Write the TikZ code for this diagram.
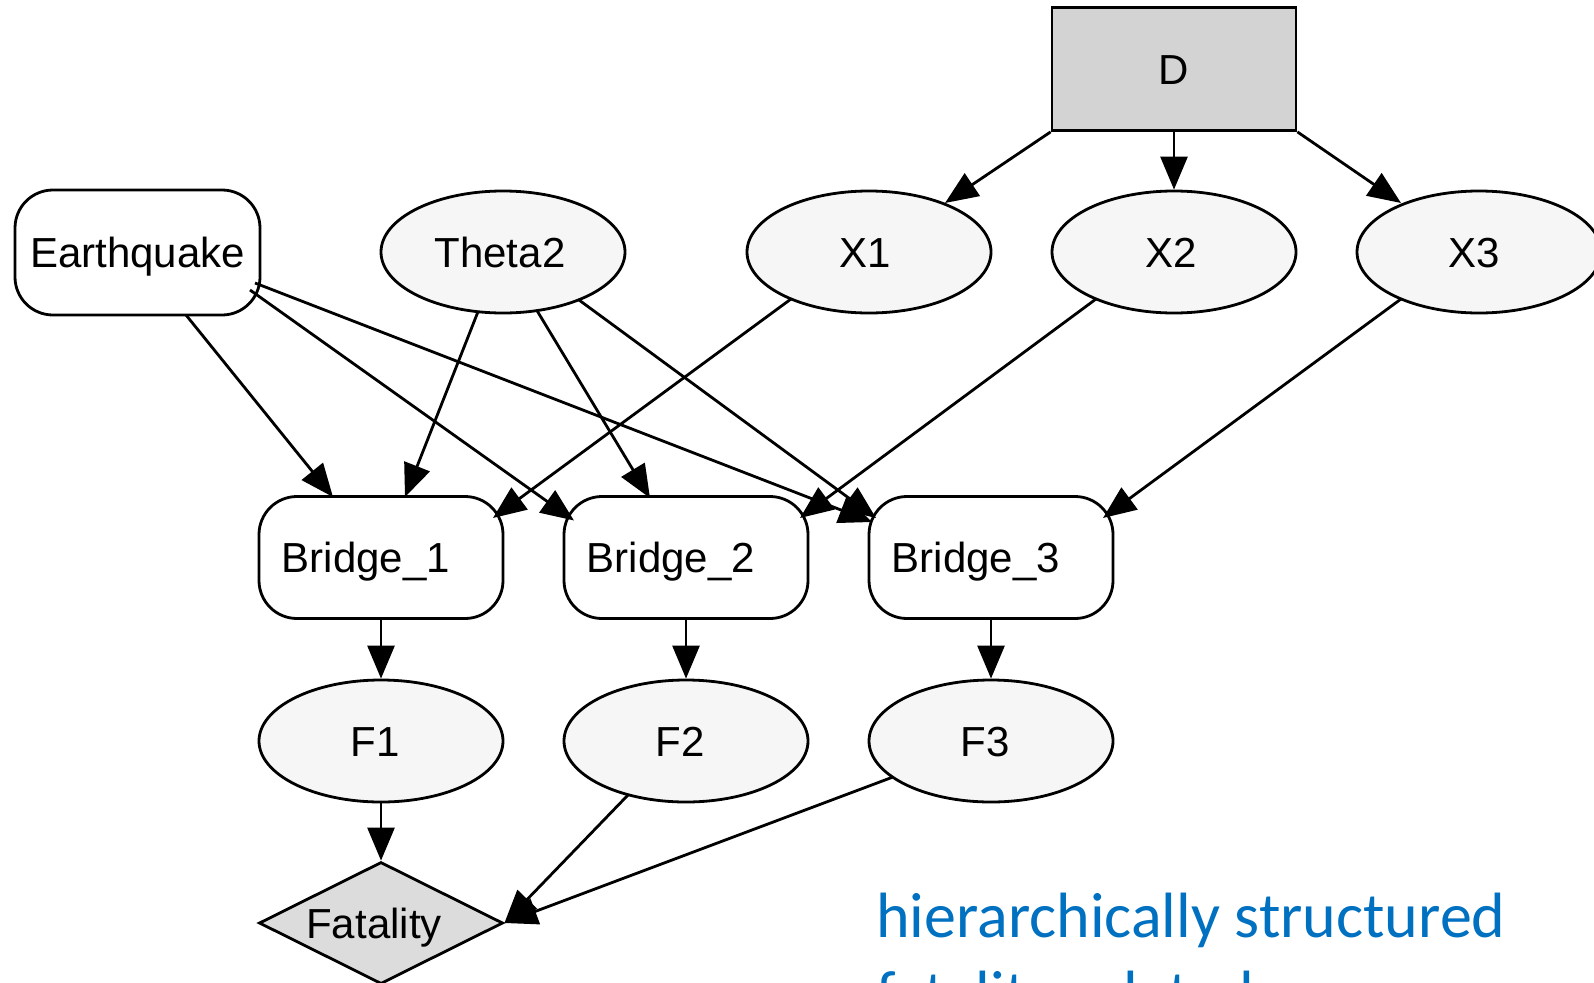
\documentclass[tikz,border=0pt]{standalone}
\usepackage{fontspec}
\setmainfont{Liberation Sans}
\newfontfamily\notefont{Carlito}
\usetikzlibrary{arrows.meta,shapes.geometric}
\definecolor{chancefill}{HTML}{F6F6F6}
\definecolor{decfill}{HTML}{D3D3D3}
\definecolor{utilfill}{HTML}{DCDCDC}
\definecolor{notecolor}{HTML}{0070C0}
\begin{document}
\begin{tikzpicture}[x=1pt,y=-1pt,
  lbl/.style={font=\fontsize{42}{50}\selectfont, text height=30.5pt, text depth=0pt,
    inner sep=0pt, line width=2.8pt},
  chance/.style={lbl, draw, ellipse, fill=chancefill, minimum width=244pt, minimum height=122pt},
  bnode/.style={lbl, draw, rectangle, rounded corners=38pt, fill=white,
    minimum width=244pt, minimum height=122pt},
  decision/.style={lbl, draw, rectangle, fill=decfill, minimum width=244pt, minimum height=123pt},
  utility/.style={lbl, draw, diamond, aspect=2, fill=utilfill, minimum width=244pt, minimum height=122pt},
  edge/.style={line width=2.8pt, -{Triangle[length=33pt,width=27pt]}},
  note/.style={font=\notefont\fontsize{64}{78}\selectfont, text=notecolor,
    inner sep=0pt, anchor=base west}
]
\clip (0,0) rectangle (1594,982);

% decision node and its three observations
\node[decision] (D) at (1174,69) {D};
\node[chance] (X1) at (869,252) {X1\kern8pt};
\node[chance] (X2) at (1174,252) {X2\kern6pt};
\node[chance] (X3) at (1479,252) {X3\kern10pt};

% hazard and model parameter
\node[bnode, minimum width=245pt, minimum height=125pt] (EQ) at (137.5,252.5) {Earthquake};
\node[chance] (T2) at (503,252) {Theta2\kern6pt};

% bridges
\node[bnode] (B1) at (381,557.5) {Bridge\_1\kern30pt};
\node[bnode] (B2) at (686,557.5) {Bridge\_2\kern30pt};
\node[bnode] (B3) at (991,557.5) {Bridge\_3\kern30pt};

% fatality per bridge
\node[chance] (F1) at (381,741) {F1\kern12pt};
\node[chance] (F2) at (686,741) {F2\kern12pt};
\node[chance] (F3) at (991,741) {F3\kern12pt};

% total fatality
\node[utility] (FA) at (381,923) {Fatality\kern14pt};

% arcs from D
\draw[edge] (D.south west) -- ([shift={(76,-49)}]X1.center);
\draw[edge] (D.south) -- (X2.north);
\draw[edge] (D.south east) -- ([shift={(-78,-49)}]X3.center);

% arcs into the bridges
\draw[edge] ([shift={(48.5,62.5)}]EQ.center) -- ([shift={(-48,-60.5)}]B1.center);
\draw[edge] ([shift={(112.5,37.5)}]EQ.center) -- ([shift={(-112,-37)}]B2.center);
\draw[edge] ([shift={(117.5,30.5)}]EQ.center) -- ([shift={(-119,-35.5)}]B3.center);
\draw[edge] ([shift={(-25,59.7)}]T2.center) -- ([shift={(24,-60.5)}]B1.center);
\draw[edge] ([shift={(34,58.6)}]T2.center) -- ([shift={(-36,-59.5)}]B2.center);
\draw[edge] ([shift={(76,48)}]T2.center) -- ([shift={(-115,-39.5)}]B3.center);
\draw[edge] ([shift={(-78,47)}]X1.center) -- ([shift={(112,-39.5)}]B1.center);
\draw[edge] ([shift={(-78,47)}]X2.center) -- ([shift={(114,-39.5)}]B2.center);
\draw[edge] ([shift={(-78,47)}]X3.center) -- ([shift={(112,-39.5)}]B3.center);

% bridge states to fatalities
\draw[edge] (B1.south) -- (F1.north);
\draw[edge] (B2.south) -- (F2.north);
\draw[edge] (B3.south) -- (F3.north);

% fatalities to the total
\draw[edge] (F1.south) -- (FA.north);
\draw[edge] ([shift={(-58,54)}]F2.center) -- (FA.east);
\draw[edge] ([shift={(-98,36)}]F3.center) -- (FA.east);

% caption
\node[note] (cap1) at (876,937) {hierarchically structured};
\node[note] (cap2) at (876,1015) {fatality related};
\end{tikzpicture}
\end{document}
